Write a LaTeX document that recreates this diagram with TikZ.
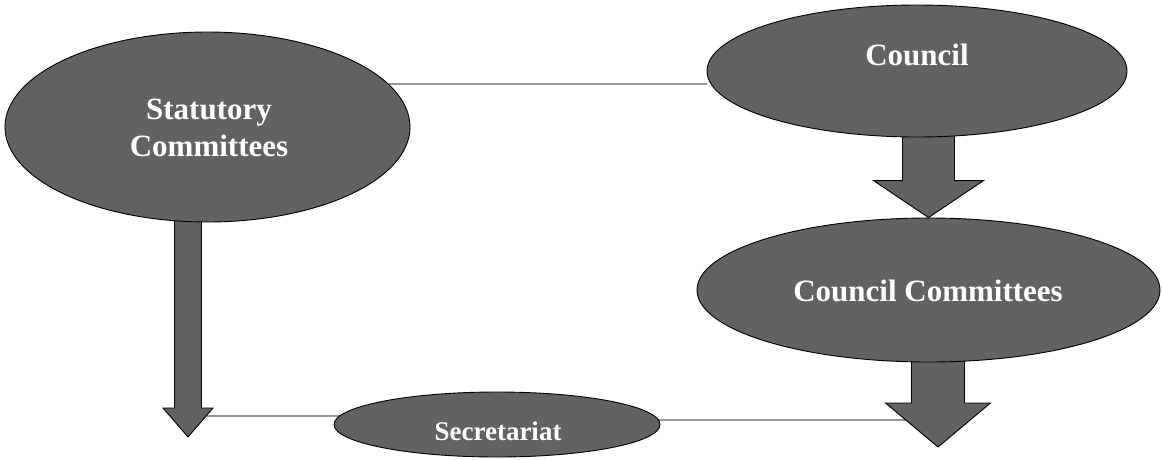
\documentclass[tikz,border=0pt]{standalone}
\usepackage{fontspec}
\setmainfont{Liberation Serif}
\usetikzlibrary{shapes.geometric,calc,backgrounds}

\definecolor{bubblegray}{RGB}{98,98,98}
\definecolor{linkgray}{RGB}{150,150,150}

\tikzset{
  bubble/.style={ellipse, draw=black, line width=0.9pt, fill=bubblegray, inner sep=0pt},
  caption/.style={text=white, font=\bfseries\fontsize{31}{37}\selectfont, align=center, inner sep=0pt},
  smallcaption/.style={caption, font=\bfseries\fontsize{27}{32}\selectfont},
  link/.style={draw=linkgray, line width=1.2pt},
  blockarrow/.style={fill=bubblegray, draw=black, line width=0.9pt, line join=miter},
}

% Downward block arrow: tail, tip, shaft half-width, head half-width, head length (pt)
\newcommand\downblockarrow[5]{%
  \path[blockarrow] let \p1=(#1), \p2=(#2) in
    (\x2-#3pt,\y1) -- (\x2-#3pt,\y2+#5pt) -- (\x2-#4pt,\y2+#5pt) -- (\x2,\y2)
    -- (\x2+#4pt,\y2+#5pt) -- (\x2+#3pt,\y2+#5pt) -- (\x2+#3pt,\y1) -- cycle;}

\begin{document}
\begin{tikzpicture}[x=1pt,y=-1pt]
  \useasboundingbox (0,0) rectangle (1162,459);

  % bodies
  \node[bubble, minimum width=405pt, minimum height=190pt] (stat) at (207.5,127) {};
  \node[bubble, minimum width=420pt, minimum height=132pt] (council) at (917,71) {};
  \node[bubble, minimum width=463pt, minimum height=144pt] (cc) at (928.5,290) {};
  \node[bubble, minimum width=326pt, minimum height=65pt] (sec) at (497,424.5) {};

  % captions
  \node[caption] (statText) at (209,128) {Statutory\\Committees};
  \node[caption] (councilText) at (917,55) {Council};
  \node[caption] (ccText) at (928,291) {Council Committees};
  \node[smallcaption] (secText) at (498,431) {Secretariat};

  % free ends of the two lower arrows
  \coordinate (stattip) at (188,437);
  \coordinate (cctip) at (938,447);

  \begin{pgfonlayer}{background}
    % thin links
    \draw[link] ([yshift=43pt]stat.center) -- ([yshift=43pt]stat.center -| council.west);
    \draw[link] ([yshift=8.5pt]sec.center) -- ([yshift=8.5pt]sec.center -| stattip);
    \draw[link] ([yshift=4.5pt]sec.center) -- ([yshift=4.5pt]sec.center -| cctip);
    % block arrows
    \downblockarrow{stat.center -| stattip}{stattip}{13.5}{25}{29}
    \downblockarrow{council.center -| cc.north}{cc.north}{26}{55}{37}
    \downblockarrow{cc.center -| cctip}{cctip}{26.5}{52.5}{44}
  \end{pgfonlayer}
\end{tikzpicture}
\end{document}
